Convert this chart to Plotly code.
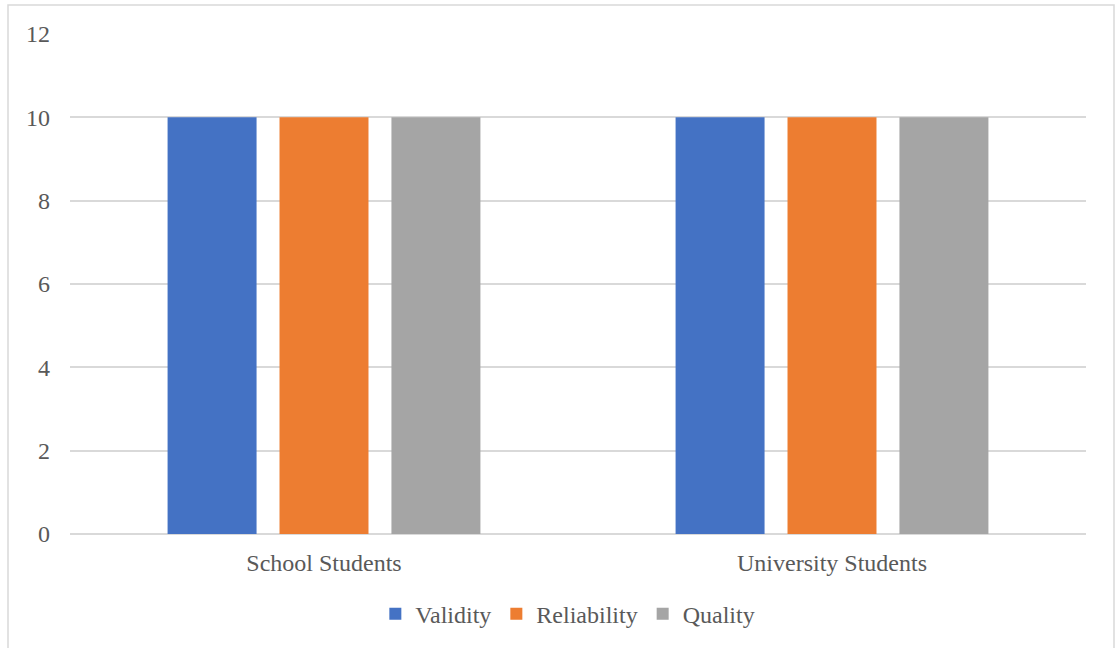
import plotly.graph_objects as go

categories = ["School Students", "University Students"]
series_names = ["Validity", "Reliability", "Quality"]
validity = [10, 10]
reliability = [10, 10]
quality = [10, 10]
colors = ["#4472C4", "#ED7D31", "#A5A5A5"]
y_ticks = [0, 2, 4, 6, 8, 10, 12]

fig = go.Figure()
for name, vals, col in zip(series_names, [validity, reliability, quality], colors):
    fig.add_trace(go.Bar(name=name, x=categories, y=vals, marker_color=col,
                         marker_line_width=0))

W, H = 1115, 648
L, R, T, B = 70, 29, 34, 113
pw, ph = W - L - R, H - T - B

FONT = "'Liberation Serif', 'Times New Roman', Times, serif"
FS = 24

fig.update_layout(
    width=W, height=H,
    margin=dict(l=L, r=R, t=T, b=B),
    paper_bgcolor="white", plot_bgcolor="white",
    barmode="group", bargap=0.339, bargroupgap=0.205,
    font=dict(family=FONT, size=FS, color="#595959"),
    showlegend=True,
    legend=dict(orientation="h", x=0.49, xanchor="center", y=-0.158, yanchor="middle",
                font=dict(family=FONT, size=FS, color="#595959"), itemwidth=30,
                traceorder="normal"),
    xaxis=dict(showgrid=False, showline=False, ticks="", ticklabelstandoff=12,
               tickfont=dict(family=FONT, size=FS)),
    yaxis=dict(range=[0, 12], tickvals=y_ticks, showgrid=True, gridcolor="#D9D9D9",
               gridwidth=1.5, zeroline=True, zerolinecolor="#D9D9D9", zerolinewidth=1.5,
               showline=False, ticks="", ticklabelstandoff=19,
               tickfont=dict(family=FONT, size=FS)),
    shapes=[dict(type="rect", xref="paper", yref="paper",
                 x0=(8 - L) / pw, x1=(1114 - L) / pw,
                 y0=(H - B - 660) / ph, y1=(H - B - 5) / ph,
                 line=dict(color="#D9D9D9", width=1.5), fillcolor="rgba(0,0,0,0)",
                 layer="below")],
)

fig.write_html("out.html")
